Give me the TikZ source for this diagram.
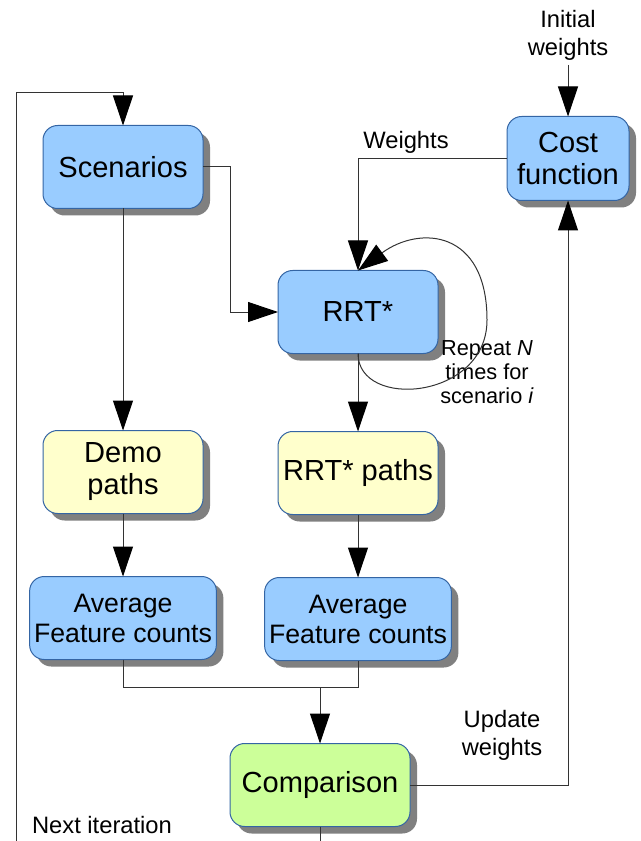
\documentclass[tikz,border=0pt]{standalone}
\usepackage{fontspec}
\setmainfont{Liberation Sans}
\usetikzlibrary{arrows.meta, positioning, shadows, calc}
\usepackage{xcolor}

\definecolor{boxblue}{HTML}{99CCFF}
\definecolor{boxyellow}{HTML}{FFFFCC}
\definecolor{boxgreen}{HTML}{CCFF99}
\definecolor{boxborder}{HTML}{3465A4}
\definecolor{shadowgray}{HTML}{808080}
\definecolor{linegray}{HTML}{333333}

\newcommand{\boxfont}{\fontsize{21.8}{24}\selectfont}
\newcommand{\featfont}{\fontsize{20}{22.5}\selectfont}
\newcommand{\lblfont}{\fontsize{17.8}{21}\selectfont}
\newcommand{\notefont}{\fontsize{16.3}{18}\selectfont}

\begin{document}
\begin{tikzpicture}[x=0.75pt, y=-0.75pt,
	boxshadow/.style={drop shadow={shadow xshift=5.25pt, shadow yshift=-5.25pt, fill=shadowgray, opacity=1}},
	bluebox/.style={rectangle, draw=boxborder, line width=.75pt, outer sep=0pt, rounded corners=11pt, minimum height=62.25pt, minimum width=120pt, align=center, fill=boxblue, font=\boxfont, boxshadow},
	yellowbox/.style={bluebox, fill=boxyellow},
	greenbox/.style={bluebox, fill=boxgreen, minimum width=135pt},
	featbox/.style={bluebox, minimum width=139.5pt, font=\featfont},
	arrow/.style={-{Triangle[length=22.5pt, width=15pt, color=black]}, line width=.75pt, draw=linegray},
	line/.style={line width=.75pt, draw=linegray},
	lbl/.style={align=center, font=\lblfont},
	note/.style={align=center, font=\notefont},
	every node/.style={align=center}
	]
	\clip (0,0) rectangle (640,841);

	\node[bluebox] (scenarios) at (123,167) {Scenarios};
	\node[bluebox, below right=46.5pt and 56.25pt of scenarios] (rrt) {RRT*};
	\node[bluebox, above right=52.5pt and 51.75pt of rrt, minimum width=91.5pt, minimum height=63pt] (cost) {Cost\\function};
	\node[yellowbox, below=166.5pt of scenarios] (demo) {Demo\\paths};
	\node[yellowbox, below=58.5pt of rrt] (rrt-paths) {RRT* paths};
	\node[featbox, below=47.25pt of demo] (feat-demo) {Average\\Feature counts};
	\node[featbox, below=47.25pt of rrt-paths] (feat-rrt) {Average\\Feature counts};
	\node[greenbox, below=62.25pt of feat-rrt, xshift=-28.5pt] (comp) {Comparison};

	\node[lbl] (init) at (568,35) {Initial\\weights};
	\node[lbl] (weights-lbl) at (406,142) {Weights};
	\node[lbl] (update-lbl) at (502,735) {Update\\weights};
	\node[lbl] (next-lbl) at (102,825) {Next iteration};
	\node[note] (repeat-lbl) at (487,372) {Repeat \textit{N}\\times for\\scenario \textit{i}};

	\draw[arrow] (init) -- (cost);
	\draw[arrow] (cost.west) -| (rrt.north);
	\draw[arrow] (scenarios.east) -- ++(27,0) |- (rrt.west);
	\draw[arrow] (rrt.south) .. controls (358,410) and (487,400) .. (487,320)
		.. controls (487,230) and (420,225) .. (rrt.north);

	\draw[arrow] (scenarios) -- (demo);
	\draw[arrow] (rrt) -- (rrt-paths);
	\draw[arrow] (demo) -- (feat-demo);
	\draw[arrow] (rrt-paths) -- (feat-rrt);

	\draw[line] (feat-demo.south) -- ++(0,28) coordinate (merge) -| (feat-rrt.south);
	\draw[arrow] (merge -| comp.north) -- (comp.north);
	\draw[arrow] (comp.east) -| (cost.south);

	% feedback loop, runs below the page
	\coordinate (loop-corner) at (16,93);
	\draw[arrow] (comp.south) -- (comp.south |- 0,880) -| (loop-corner) -| (scenarios.north);
\end{tikzpicture}
\end{document}
